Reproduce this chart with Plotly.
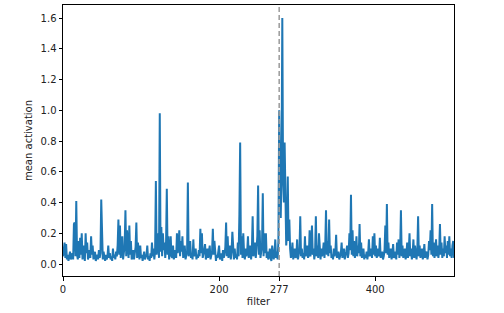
import plotly.graph_objects as go

# mean activation per filter (rows of 20)
activation = [
    0.05, 0.09, 0.14, 0.04, 0.13, 0.03, 0.06, 0.02, 0.05, 0.08, 0.03, 0.04, 0.07, 0.03, 0.26, 0.27, 0.05, 0.41, 0.06, 0.03,
    0.15, 0.04, 0.17, 0.06, 0.20, 0.03, 0.12, 0.05, 0.02, 0.20, 0.07, 0.14, 0.03, 0.05, 0.09, 0.04, 0.18, 0.06, 0.12, 0.03,
    0.05, 0.08, 0.02, 0.04, 0.06, 0.03, 0.09, 0.04, 0.07, 0.42, 0.05, 0.03, 0.08, 0.04, 0.02, 0.06, 0.03, 0.05, 0.12, 0.04,
    0.07, 0.03, 0.05, 0.02, 0.10, 0.04, 0.06, 0.03, 0.08, 0.05, 0.12, 0.29, 0.06, 0.25, 0.04, 0.09, 0.18, 0.03, 0.07, 0.12,
    0.35, 0.05, 0.22, 0.08, 0.04, 0.25, 0.06, 0.15, 0.03, 0.05, 0.09, 0.03, 0.07, 0.11, 0.27, 0.04, 0.14, 0.05, 0.03, 0.12,
    0.04, 0.06, 0.02, 0.05, 0.08, 0.03, 0.04, 0.06, 0.12, 0.03, 0.05, 0.02, 0.07, 0.04, 0.14, 0.05, 0.10, 0.03, 0.08, 0.54,
    0.06, 0.11, 0.20, 0.04, 0.98, 0.08, 0.24, 0.05, 0.20, 0.09, 0.14, 0.04, 0.12, 0.49, 0.06, 0.18, 0.03, 0.09, 0.18, 0.05,
    0.04, 0.12, 0.03, 0.06, 0.09, 0.04, 0.20, 0.07, 0.12, 0.22, 0.05, 0.15, 0.08, 0.18, 0.04, 0.06, 0.12, 0.03, 0.05, 0.08,
    0.53, 0.05, 0.09, 0.15, 0.04, 0.06, 0.03, 0.16, 0.05, 0.08, 0.10, 0.03, 0.06, 0.04, 0.09, 0.05, 0.23, 0.07, 0.20, 0.04,
    0.06, 0.09, 0.13, 0.03, 0.05, 0.10, 0.04, 0.07, 0.12, 0.03, 0.05, 0.08, 0.23, 0.06, 0.15, 0.04, 0.02, 0.06, 0.04, 0.08,
    0.12, 0.03, 0.05, 0.07, 0.02, 0.09, 0.04, 0.06, 0.11, 0.27, 0.05, 0.18, 0.04, 0.07, 0.12, 0.03, 0.08, 0.21, 0.05, 0.03,
    0.10, 0.04, 0.06, 0.03, 0.14, 0.05, 0.32, 0.79, 0.06, 0.18, 0.04, 0.20, 0.07, 0.03, 0.10, 0.05, 0.08, 0.18, 0.04, 0.06,
    0.12, 0.03, 0.09, 0.31, 0.05, 0.08, 0.14, 0.04, 0.10, 0.18, 0.51, 0.06, 0.22, 0.04, 0.08, 0.12, 0.46, 0.05, 0.20, 0.07,
    0.20, 0.04, 0.08, 0.03, 0.05, 0.10, 0.04, 0.02, 0.12, 0.05, 0.03, 0.07, 0.16, 0.04, 0.08, 0.03, 0.15, 1.00, 0.45, 0.30,
    0.62, 1.60, 0.55, 0.40, 0.79, 0.25, 0.12, 0.20, 0.57, 0.15, 0.29, 0.10, 0.04, 0.07, 0.14, 0.03, 0.06, 0.10, 0.04, 0.05,
    0.16, 0.03, 0.06, 0.09, 0.31, 0.05, 0.10, 0.04, 0.07, 0.03, 0.18, 0.05, 0.08, 0.12, 0.04, 0.06, 0.22, 0.05, 0.09, 0.25,
    0.06, 0.10, 0.03, 0.08, 0.31, 0.05, 0.12, 0.04, 0.20, 0.06, 0.03, 0.10, 0.05, 0.08, 0.14, 0.04, 0.12, 0.35, 0.06, 0.15,
    0.05, 0.29, 0.07, 0.12, 0.04, 0.06, 0.03, 0.10, 0.05, 0.08, 0.19, 0.04, 0.06, 0.08, 0.03, 0.05, 0.07, 0.14, 0.04, 0.06,
    0.10, 0.03, 0.05, 0.08, 0.12, 0.04, 0.07, 0.20, 0.09, 0.45, 0.06, 0.22, 0.05, 0.15, 0.04, 0.08, 0.18, 0.05, 0.12, 0.07,
    0.26, 0.05, 0.14, 0.04, 0.07, 0.10, 0.03, 0.06, 0.04, 0.08, 0.03, 0.07, 0.16, 0.05, 0.08, 0.10, 0.04, 0.18, 0.06, 0.20,
    0.05, 0.12, 0.04, 0.07, 0.10, 0.05, 0.17, 0.04, 0.06, 0.08, 0.03, 0.05, 0.09, 0.25, 0.07, 0.39, 0.06, 0.14, 0.04, 0.07,
    0.10, 0.03, 0.06, 0.13, 0.04, 0.05, 0.08, 0.03, 0.14, 0.06, 0.16, 0.04, 0.09, 0.35, 0.05, 0.12, 0.04, 0.07, 0.10, 0.03,
    0.06, 0.14, 0.04, 0.08, 0.20, 0.05, 0.10, 0.03, 0.07, 0.16, 0.04, 0.12, 0.06, 0.03, 0.09, 0.31, 0.05, 0.12, 0.04, 0.07,
    0.10, 0.03, 0.06, 0.13, 0.04, 0.07, 0.08, 0.03, 0.06, 0.15, 0.09, 0.22, 0.06, 0.39, 0.05, 0.14, 0.04, 0.08, 0.16, 0.05,
    0.12, 0.04, 0.09, 0.26, 0.06, 0.14, 0.04, 0.10, 0.05, 0.18, 0.07, 0.12, 0.04, 0.15, 0.06, 0.18, 0.05, 0.10, 0.04, 0.12,
    0.15, 0.04,
]
filters = list(range(len(activation)))

x_tick_vals = [0, 200, 277, 400]
x_tick_text = ["0", "200", "277", "400"]
y_tick_vals = [0.0, 0.2, 0.4, 0.6, 0.8, 1.0, 1.2, 1.4, 1.6]
y_tick_text = ["0.0", "0.2", "0.4", "0.6", "0.8", "1.0", "1.2", "1.4", "1.6"]
marked_filter = 277

fig = go.Figure()
fig.add_trace(go.Scatter(
    x=filters, y=activation, mode="lines",
    line=dict(color="#1f77b4", width=2),
    showlegend=False, hoverinfo="x+y",
))

fig.add_shape(type="line", xref="x", yref="paper",
              x0=marked_filter, x1=marked_filter, y0=0, y1=1,
              line=dict(color="#9a9a9a", width=1.5, dash="5px,3px"))

axis_common = dict(
    showline=True, linecolor="black", linewidth=1, mirror=True,
    ticks="outside", ticklen=3.5, tickwidth=1, tickcolor="black",
    showgrid=False, zeroline=False,
    tickfont=dict(family="DejaVu Sans", size=10, color="#222"),
)

fig.update_layout(
    width=504, height=313,
    margin=dict(l=63, r=50, t=5, b=37),
    paper_bgcolor="white", plot_bgcolor="white",
    font=dict(family="DejaVu Sans", size=10, color="#222"),
    xaxis=dict(range=[0, len(activation) - 1], tickvals=x_tick_vals, ticktext=x_tick_text,
               title=dict(text="filter", standoff=4, font=dict(size=10)), **axis_common),
    yaxis=dict(range=[-0.078, 1.685], tickvals=y_tick_vals, ticktext=y_tick_text,
               title=dict(text="mean activation", standoff=6, font=dict(size=10)), **axis_common),
)

fig.write_html("out.html")
